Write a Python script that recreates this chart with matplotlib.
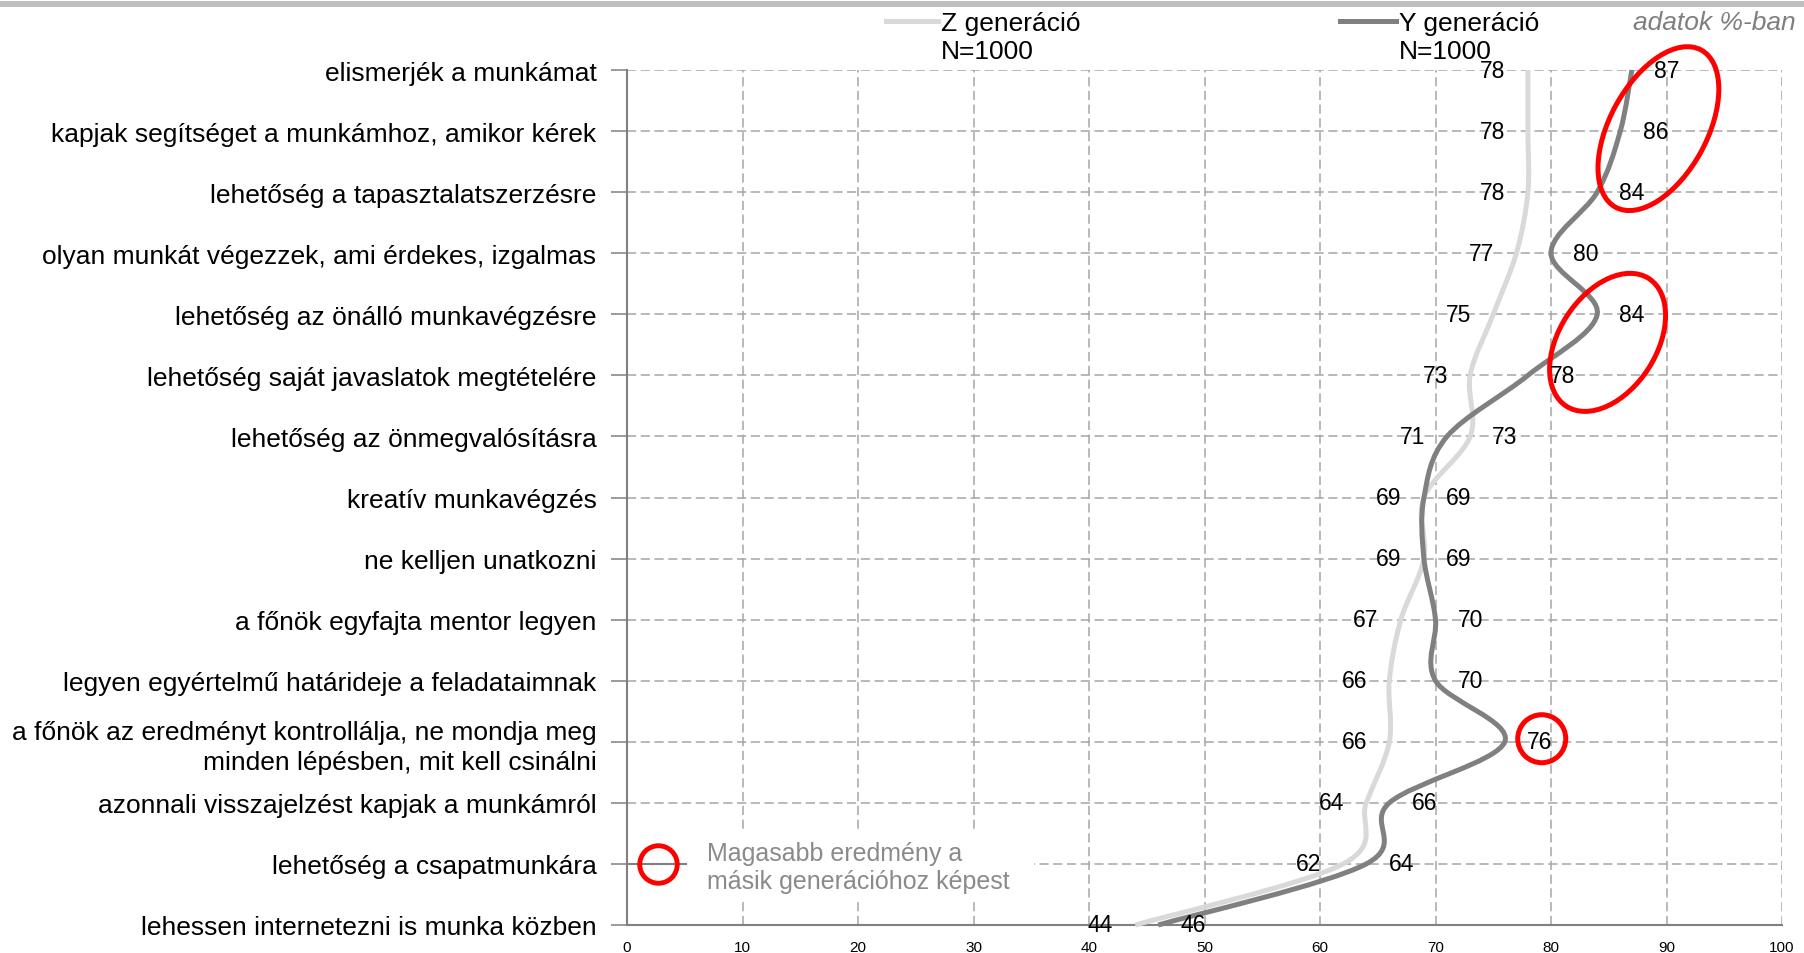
import matplotlib
matplotlib.use("Agg")
import matplotlib.pyplot as plt
import matplotlib.patches as mpatches
import matplotlib.transforms as mtransforms
from matplotlib.lines import Line2D
from matplotlib.path import Path
import numpy as np

plt.rcParams['font.family'] = ['Liberation Sans', 'DejaVu Sans']

# data (top row first)
categories = [
    "elismerjék a munkámat",
    "kapjak segítséget a munkámhoz, amikor kérek",
    "lehetőség a tapasztalatszerzésre",
    "olyan munkát végezzek, ami érdekes, izgalmas",
    "lehetőség az önálló munkavégzésre",
    "lehetőség saját javaslatok megtételére",
    "lehetőség az önmegvalósításra",
    "kreatív munkavégzés",
    "ne kelljen unatkozni",
    "a főnök egyfajta mentor legyen",
    "legyen egyértelmű határideje a feladataimnak",
    "a főnök az eredményt kontrollálja, ne mondja meg\nminden lépésben, mit kell csinálni",
    "azonnali visszajelzést kapjak a munkámról",
    "lehetőség a csapatmunkára",
    "lehessen internetezni is munka közben",
]
z_gen = [78, 78, 78, 77, 75, 73, 73, 69, 69, 67, 66, 66, 64, 62, 44]
y_gen = [87, 86, 84, 80, 84, 78, 71, 69, 69, 70, 70, 76, 66, 64, 46]
z_label = "Z generáció\nN=1000"
y_label = "Y generáció\nN=1000"
x_ticks = list(range(0, 101, 10))

# highlighted spots (value, row, width in, height in, angle)
highlights = [
    (89.3, 0.96, 1.79, 0.97, 61.4),
    (84.9, 4.46, 1.52, 0.97, 57.1),
    (79.2, 10.95, 0.48, 0.48, 0),
]

Z_COLOR = '#d9d9d9'
Y_COLOR = '#808080'
GRID = '#a6a6a6'

W, H = 1804, 954
fig = plt.figure(figsize=(W / 100, H / 100), dpi=100)
ax = fig.add_axes([627 / W, 28 / H, (1782 - 627) / W, (926 - 71) / H])

rows = np.arange(len(categories))


def smooth_path(xs, ys):
    # excel-like smoothed line through the points (cubic bezier)
    pts = np.column_stack([xs, ys]).astype(float)
    n = len(pts)
    verts = [pts[0]]
    codes = [Path.MOVETO]
    for i in range(n - 1):
        p0 = pts[i - 1] if i > 0 else pts[i]
        p1, p2 = pts[i], pts[i + 1]
        p3 = pts[i + 2] if i + 2 < n else pts[i + 1]
        verts += [p1 + (p2 - p0) / 6, p2 - (p3 - p1) / 6, p2]
        codes += [Path.CURVE4] * 3
    return Path(verts, codes)


for vals, col in [(z_gen, Z_COLOR), (y_gen, Y_COLOR)]:
    patch = mpatches.PathPatch(smooth_path(vals, rows), facecolor='none',
                               edgecolor=col, lw=3.6, capstyle='butt',
                               zorder=3, clip_on=False)
    ax.add_patch(patch)

# data labels: lower value on the left, higher on the right
for r in rows:
    zv, yv = z_gen[r], y_gen[r]
    z_left = zv <= yv
    for v, left in [(zv, z_left), (yv, not z_left)]:
        ax.annotate(str(v), (v, r), xytext=(-16 if left else 16, 0),
                    textcoords='offset points', ha='right' if left else 'left',
                    va='center', fontsize=16.5, zorder=5, annotation_clip=False)

# red ellipses
for cx, cy, w, h, ang in highlights:
    tr = fig.dpi_scale_trans + mtransforms.ScaledTranslation(cx, cy, ax.transData)
    ax.add_patch(mpatches.Ellipse((0, 0), w, h, angle=ang, transform=tr,
                                  fill=False, edgecolor='#ff0000', lw=3.6,
                                  zorder=4, clip_on=False))

ax.set_xlim(0, 100)
ax.set_ylim(len(categories) - 1, 0)
ax.set_xticks(x_ticks)
ax.set_yticks(rows)
ax.set_yticklabels(categories, fontsize=19)
for lbl in ax.get_yticklabels():
    lbl.set_linespacing(1.3)
ax.tick_params(axis='y', direction='out', length=11.5, width=1.1,
               color=Y_COLOR, pad=10.5)
ax.tick_params(axis='x', length=0, pad=11, labelsize=11)

ax.set_axisbelow(True)
ax.grid(True, color=GRID, lw=1.1, linestyle=(0, (6, 3)))
for s in ['top', 'right']:
    ax.spines[s].set_visible(False)
for s in ['left', 'bottom']:
    ax.spines[s].set_color(Y_COLOR)
    ax.spines[s].set_linewidth(1.5)
ax.xaxis.get_gridlines()[0].set_visible(False)

# legend for the circles (white box behind it)
ax.add_patch(mpatches.Rectangle((640 / W, 1 - 903 / H), (1034 - 640) / W,
                                (903 - 830) / H, transform=fig.transFigure,
                                facecolor='white', edgecolor='none', zorder=1,
                                clip_on=False))
fig.add_artist(Line2D([629 / W, 686 / W], [1 - 865 / H] * 2, color=Y_COLOR,
                      lw=1.5, zorder=3))
fig.add_artist(Line2D([658 / W], [1 - 865 / H], marker='o', ms=27,
                      mfc='none', mec='#ff0000', mew=3.5, zorder=4))
fig.text(707 / W, 1 - 868 / H, "Magasabb eredmény a\nmásik generációhoz képest",
         fontsize=18, color='#8a8a8a', va='center', ha='left', linespacing=1.2)

# series legend on top
for x0, x1, col, lab in [(886, 938, Z_COLOR, z_label), (1340, 1396, Y_COLOR, y_label)]:
    fig.add_artist(Line2D([x0 / W, x1 / W], [1 - 22 / H] * 2, color=col, lw=3.6))
    fig.text((x1 + 3) / W, 1 - 38 / H, lab, fontsize=19, va='center', ha='left',
             linespacing=1.22)

fig.text(1796 / W, 1 - 23 / H, "adatok %-ban", fontsize=19, style='italic',
         color='#7f7f7f', ha='right', va='center')

# gray band at the very top
fig.add_artist(mpatches.Rectangle((0, 1 - 8 / H), 1, 6 / H, transform=fig.transFigure,
                                  facecolor='#bfbfbf', edgecolor='none'))

fig.savefig('out.png', dpi=100)
